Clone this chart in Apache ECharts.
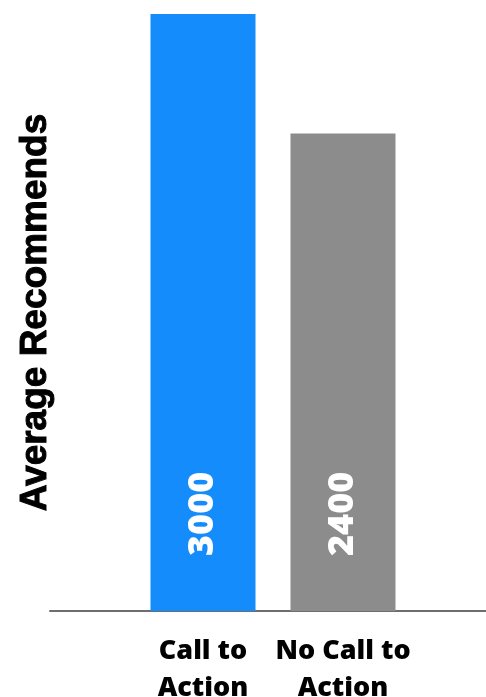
<!DOCTYPE html>
<html>
<head>
<meta charset="utf-8">
<script src="https://cdn.jsdelivr.net/npm/echarts@6/dist/echarts.min.js"></script>
<style>
  html, body { margin: 0; padding: 0; background: #fff; }
  #chart { width: 486px; height: 697px; }
</style>
</head>
<body>
<div id="chart"></div>
<script>
// Categories and values for the two bars
const categories = ['Call to\nAction', 'No Call to\nAction'];
const recommends = [3000, 2400];
const barColors = ['#158cfb', '#8c8c8c'];
const yAxisTitle = 'Average Recommends';

const chart = echarts.init(document.getElementById('chart'));

const heavyFont = '"Open Sans", Lato, sans-serif';

chart.setOption({
  animation: false,
  backgroundColor: '#ffffff',
  grid: [
    { left: 133, right: 73, top: 14, bottom: 86, outerBoundsMode: 'none', containLabel: false },
    // wider baseline spanning the full plot
    { left: 50, right: 0, top: 14, bottom: 86, outerBoundsMode: 'none', containLabel: false }
  ],
  xAxis: [
    {
      type: 'category',
      gridIndex: 0,
      data: categories,
      axisLine: { show: false },
      axisTick: { show: false },
      axisLabel: {
        color: '#000',
        fontFamily: heavyFont,
        fontWeight: 800,
        fontSize: 27,
        lineHeight: 37,
        margin: 22,
        interval: 0
      }
    },
    {
      type: 'value',
      gridIndex: 1,
      min: 0,
      max: 1,
      axisLine: { show: true, lineStyle: { color: '#6e6e6e', width: 2 } },
      axisTick: { show: false },
      axisLabel: { show: false },
      splitLine: { show: false }
    }
  ],
  yAxis: [
    {
      type: 'value',
      gridIndex: 0,
      min: 0,
      max: 3000,
      axisLine: { show: false },
      axisTick: { show: false },
      axisLabel: { show: false },
      splitLine: { show: false }
    },
    {
      type: 'value',
      gridIndex: 1,
      min: 0,
      max: 1,
      name: yAxisTitle,
      nameLocation: 'middle',
      nameRotate: 90,
      nameGap: -4,
      nameTextStyle: {
        color: '#000',
        fontFamily: '"Liberation Sans", Arial, sans-serif',
        fontWeight: 'bold',
        fontSize: 37,
        textBorderColor: '#000',
        textBorderWidth: 1
      },
      axisLine: { show: false },
      axisTick: { show: false },
      axisLabel: { show: false },
      splitLine: { show: false }
    }
  ],
  series: [
    {
      type: 'bar',
      xAxisIndex: 0,
      yAxisIndex: 0,
      barWidth: 105,
      data: recommends.map((v, i) => ({ value: v, itemStyle: { color: barColors[i] } })),
      label: {
        show: true,
        position: 'insideBottom',
        distance: 55,
        rotate: 90,
        align: 'left',
        verticalAlign: 'middle',
        color: '#fff',
        fontFamily: heavyFont,
        fontWeight: 800,
        fontSize: 36
      }
    }
  ]
});
</script>
</body>
</html>
